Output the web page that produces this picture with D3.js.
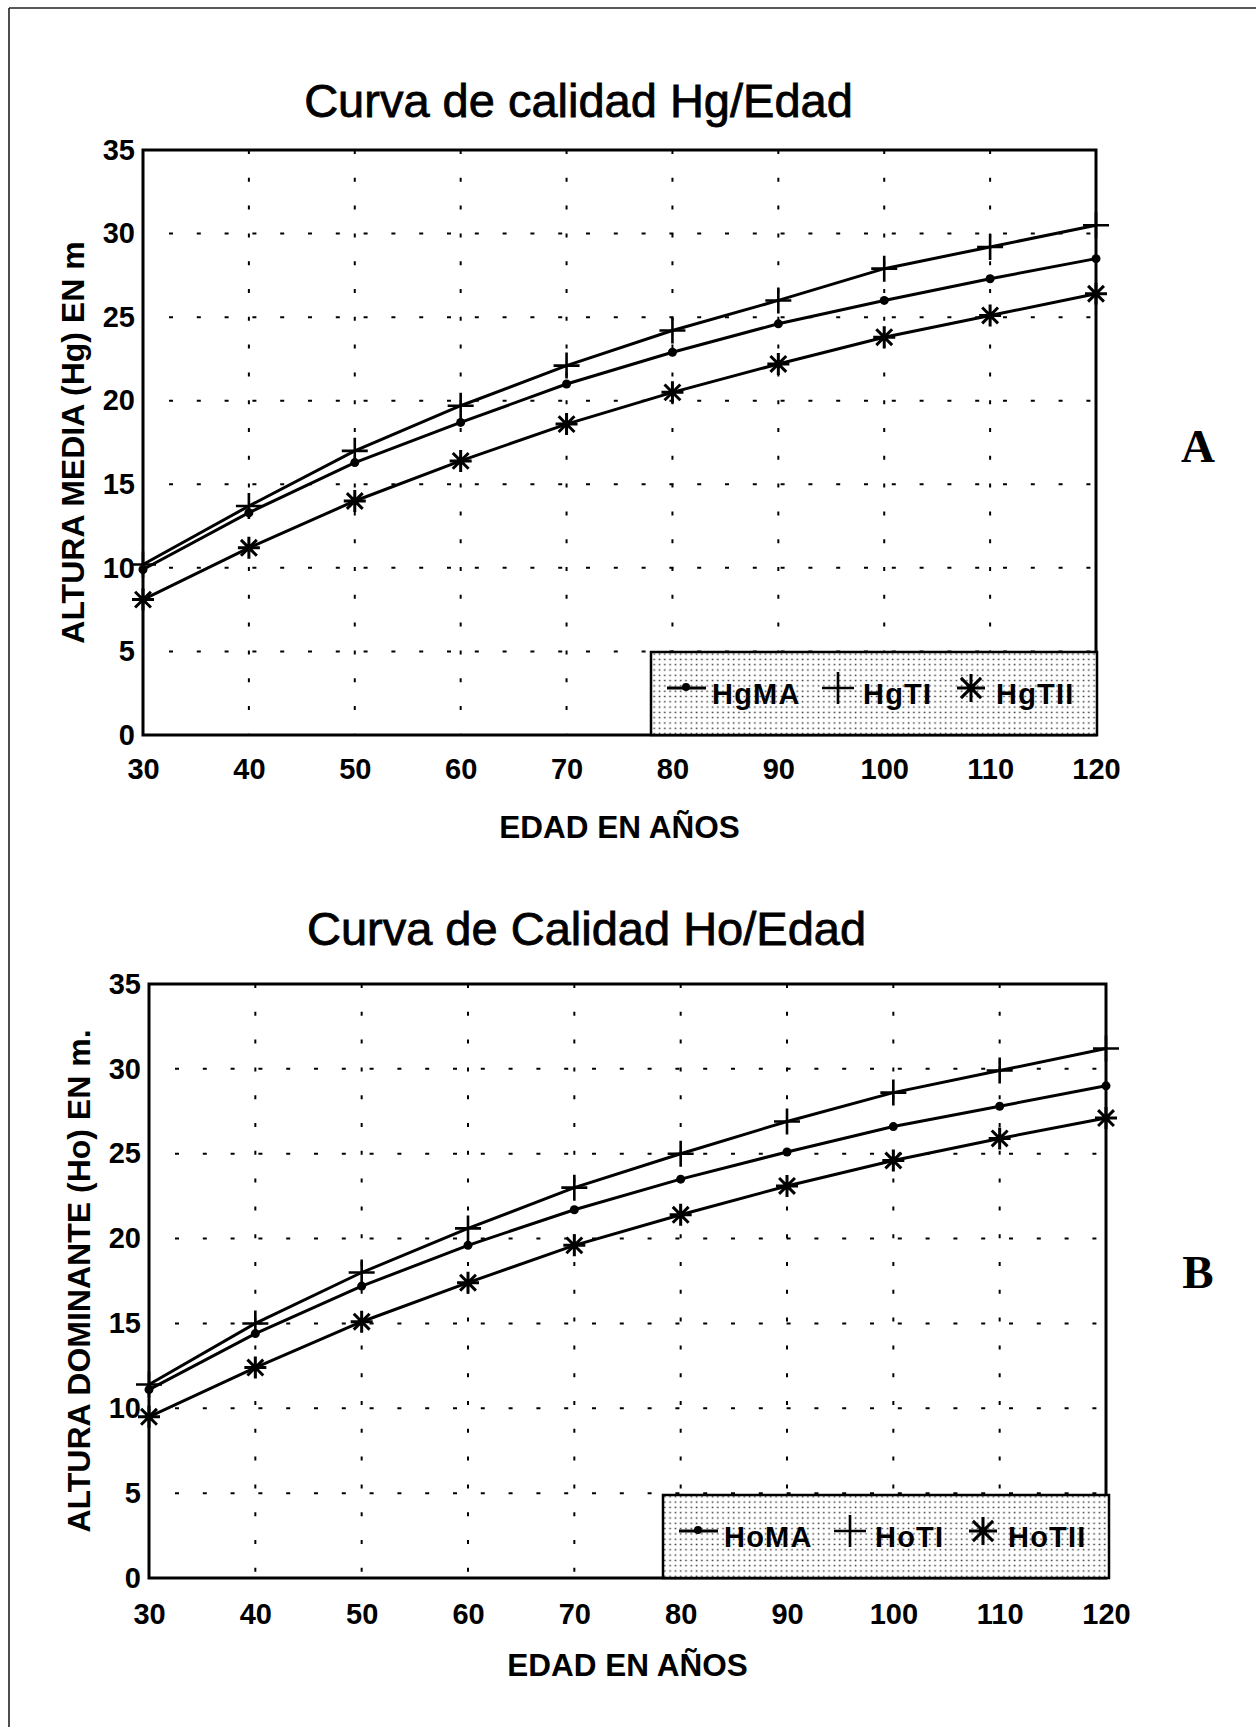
<!DOCTYPE html>
<html>
<head>
<meta charset="utf-8">
<script src="https://cdn.jsdelivr.net/npm/d3@7"></script>
<style>
  html, body { margin: 0; padding: 0; background: #fff; }
  svg { display: block; }
</style>
</head>
<body>
<svg id="chart" width="1256" height="1727"></svg>
<script>
// ---------------- DATA ----------------
const ages = [30, 40, 50, 60, 70, 80, 90, 100, 110, 120];
const yTicks = [0, 5, 10, 15, 20, 25, 30, 35];
const xTicks = [30, 40, 50, 60, 70, 80, 90, 100, 110, 120];

// Panel A: Hg
const hgMA  = [9.9, 13.3, 16.3, 18.7, 21.0, 22.9, 24.6, 26.0, 27.3, 28.5];
const hgTI  = [10.2, 13.7, 17.0, 19.7, 22.1, 24.2, 26.0, 27.9, 29.2, 30.5];
const hgTII = [8.1, 11.2, 14.0, 16.4, 18.6, 20.5, 22.2, 23.8, 25.1, 26.4];
// Panel B: Ho
const hoMA  = [11.1, 14.4, 17.2, 19.6, 21.7, 23.5, 25.1, 26.6, 27.8, 29.0];
const hoTI  = [11.4, 15.0, 18.0, 20.6, 23.0, 25.0, 26.9, 28.6, 29.9, 31.2];
const hoTII = [9.5, 12.4, 15.1, 17.4, 19.6, 21.4, 23.1, 24.6, 25.9, 27.1];

const titleA = "Curva de calidad Hg/Edad";
const titleB = "Curva de Calidad Ho/Edad";
const xLabel = "EDAD EN AÑOS";
const yLabelA = "ALTURA MEDIA (Hg) EN m";
const yLabelB = "ALTURA DOMINANTE (Ho) EN m.";
const seriesNamesA = ["HgMA", "HgTI", "HgTII"];
const seriesNamesB = ["HoMA", "HoTI", "HoTII"];
const markerTypes = ["dot", "plus", "star"];

// ---------------- DRAW ----------------
const svg = d3.select("#chart");
const SANS = "'Liberation Sans', Arial, Helvetica, sans-serif";
const SERIF = "'Liberation Serif', 'Times New Roman', serif";

// stipple pattern for legend
const defs = svg.append("defs");
const pat = defs.append("pattern").attr("id", "stipple")
  .attr("patternUnits", "userSpaceOnUse").attr("width", 5.3).attr("height", 5.3);
pat.append("rect").attr("width", 5.3).attr("height", 5.3).attr("fill", "#fff");
pat.append("rect").attr("x", 1.5).attr("y", 1.5).attr("width", 1.6).attr("height", 1.4).attr("fill", "#333");

// page frame (top and left edges of scanned page)
svg.append("line").attr("x1", 9).attr("y1", 8).attr("x2", 1256).attr("y2", 8)
  .attr("stroke", "#222").attr("stroke-width", 1.6);
svg.append("line").attr("x1", 9).attr("y1", 8).attr("x2", 9).attr("y2", 1727)
  .attr("stroke", "#222").attr("stroke-width", 1.6);

function markerPath(type, s) {
  if (type === "plus") return `M${-s},0H${s}M0,${-s}V${s}`;
  if (type === "star") {
    const d = s * 0.72;
    return `M${-s},0H${s}M0,${-s}V${s}M${-d},${-d}L${d},${d}M${-d},${d}L${d},${-d}`;
  }
  return "";
}

function drawPanel(cfg) {
  const g = svg.append("g");
  const x = d3.scaleLinear().domain([30, 120]).range([cfg.left, cfg.right]);
  const y = d3.scaleLinear().domain([0, 35]).range([cfg.bottom, cfg.top]);

  // grid
  const grid = g.append("g").attr("stroke", "#000").attr("stroke-width", 2)
    .attr("stroke-dasharray", "4,23.8");
  yTicks.filter(v => v > 0 && v < 35).forEach(v => {
    grid.append("line").attr("x1", x(30) + 26).attr("x2", x(120))
      .attr("y1", y(v)).attr("y2", y(v));
  });
  xTicks.filter(v => v > 30 && v < 120).forEach(v => {
    grid.append("line").attr("x1", x(v)).attr("x2", x(v))
      .attr("y1", y(35)).attr("y2", y(0));
  });

  // axes (labels only)
  const ax = g.append("g").attr("transform", `translate(0,${cfg.bottom})`)
    .call(d3.axisBottom(x).tickValues(xTicks).tickSize(0).tickPadding(cfg.xPad));
  ax.select(".domain").remove();
  ax.selectAll("text").attr("font-family", SANS).attr("font-weight", "bold")
    .attr("font-size", 29).attr("fill", "#000");
  const ay = g.append("g").attr("transform", `translate(${cfg.left},0)`)
    .call(d3.axisLeft(y).tickValues(yTicks).tickSize(0).tickPadding(8));
  ay.select(".domain").remove();
  ay.selectAll("text").attr("font-family", SANS).attr("font-weight", "bold")
    .attr("font-size", 29).attr("fill", "#000");

  // frame
  g.append("rect").attr("x", cfg.left).attr("y", cfg.top)
    .attr("width", cfg.right - cfg.left).attr("height", cfg.bottom - cfg.top)
    .attr("fill", "none").attr("stroke", "#000").attr("stroke-width", 3);

  // legend box
  const lw = 446, lh = 83;
  const lx = cfg.right - lw + cfg.legShift, ly = cfg.bottom - lh;
  g.append("rect").attr("x", lx).attr("y", ly).attr("width", lw).attr("height", lh)
    .attr("fill", "url(#stipple)").attr("stroke", "#000").attr("stroke-width", 2.5);

  // series
  const line = d3.line().x((d, i) => x(ages[i])).y(d => y(d));
  cfg.series.forEach((vals, k) => {
    g.append("path").datum(vals).attr("d", line)
      .attr("fill", "none").attr("stroke", "#000").attr("stroke-width", 3);
    const type = markerTypes[k];
    vals.forEach((v, i) => {
      if (type === "dot") {
        g.append("circle").attr("cx", x(ages[i])).attr("cy", y(v)).attr("r", 4.5).attr("fill", "#000");
      } else {
        g.append("path").attr("d", markerPath(type, type === "plus" ? 13 : 11))
          .attr("transform", `translate(${x(ages[i])},${y(v)})`)
          .attr("fill", "none").attr("stroke", "#000").attr("stroke-width", type === "plus" ? 2.6 : 3);
      }
    });
  });

  // legend entries
  const my = ly + lh - 47, ty = ly + lh - 31;
  const leg = g.append("g");
  leg.append("line").attr("x1", lx + 16).attr("x2", lx + 55).attr("y1", my).attr("y2", my)
    .attr("stroke", "#000").attr("stroke-width", 3);
  leg.append("circle").attr("cx", lx + 35).attr("cy", my - 1).attr("r", 4).attr("fill", "#000");
  leg.append("path").attr("d", markerPath("plus", 16)).attr("transform", `translate(${lx + 187},${my})`)
    .attr("stroke", "#000").attr("stroke-width", 2.6).attr("fill", "none");
  leg.append("path").attr("d", markerPath("star", 14)).attr("transform", `translate(${lx + 320},${my})`)
    .attr("stroke", "#000").attr("stroke-width", 3).attr("fill", "none");
  const textX = [lx + 61, lx + 212, lx + 345];
  cfg.names.forEach((n, k) => {
    leg.append("text").attr("x", textX[k]).attr("y", ty).text(n)
      .attr("font-family", SANS).attr("font-weight", "bold").attr("font-size", 29)
      .attr("letter-spacing", 1.2).attr("fill", "#000");
  });

  // titles
  g.append("text").attr("x", (cfg.left + cfg.right) / 2 - 41).attr("y", cfg.titleY)
    .attr("text-anchor", "middle").attr("font-family", SANS).attr("font-size", 47)
    .attr("stroke", "#000").attr("stroke-width", 0.8)
    .attr("fill", "#000").text(cfg.title);
  g.append("text").attr("x", (cfg.left + cfg.right) / 2).attr("y", cfg.xLabelY)
    .attr("text-anchor", "middle").attr("font-family", SANS).attr("font-weight", "bold")
    .attr("font-size", 31.5).attr("fill", "#000").text(xLabel);
  g.append("text")
    .attr("transform", `translate(${cfg.left - 59},${(cfg.top + cfg.bottom) / 2}) rotate(-90)`)
    .attr("text-anchor", "middle").attr("font-family", SANS).attr("font-weight", "bold")
    .attr("font-size", 32).attr("fill", "#000").text(cfg.yLabel);

  // panel letter
  g.append("text").attr("x", 1198).attr("y", cfg.letterY).attr("text-anchor", "middle")
    .attr("font-family", SERIF).attr("font-weight", "bold").attr("font-size", 47)
    .attr("fill", "#000").text(cfg.letter);
}

drawPanel({
  left: 143, right: 1096, top: 150, bottom: 735, xPad: 23, legShift: 1,
  series: [hgMA, hgTI, hgTII], names: seriesNamesA,
  title: titleA, titleY: 117, xLabelY: 838, yLabel: yLabelA, letter: "A", letterY: 462
});
drawPanel({
  left: 149, right: 1106, top: 984, bottom: 1578, xPad: 25, legShift: 3,
  series: [hoMA, hoTI, hoTII], names: seriesNamesB,
  title: titleB, titleY: 945, xLabelY: 1676, yLabel: yLabelB, letter: "B", letterY: 1288
});
</script>
</body>
</html>
